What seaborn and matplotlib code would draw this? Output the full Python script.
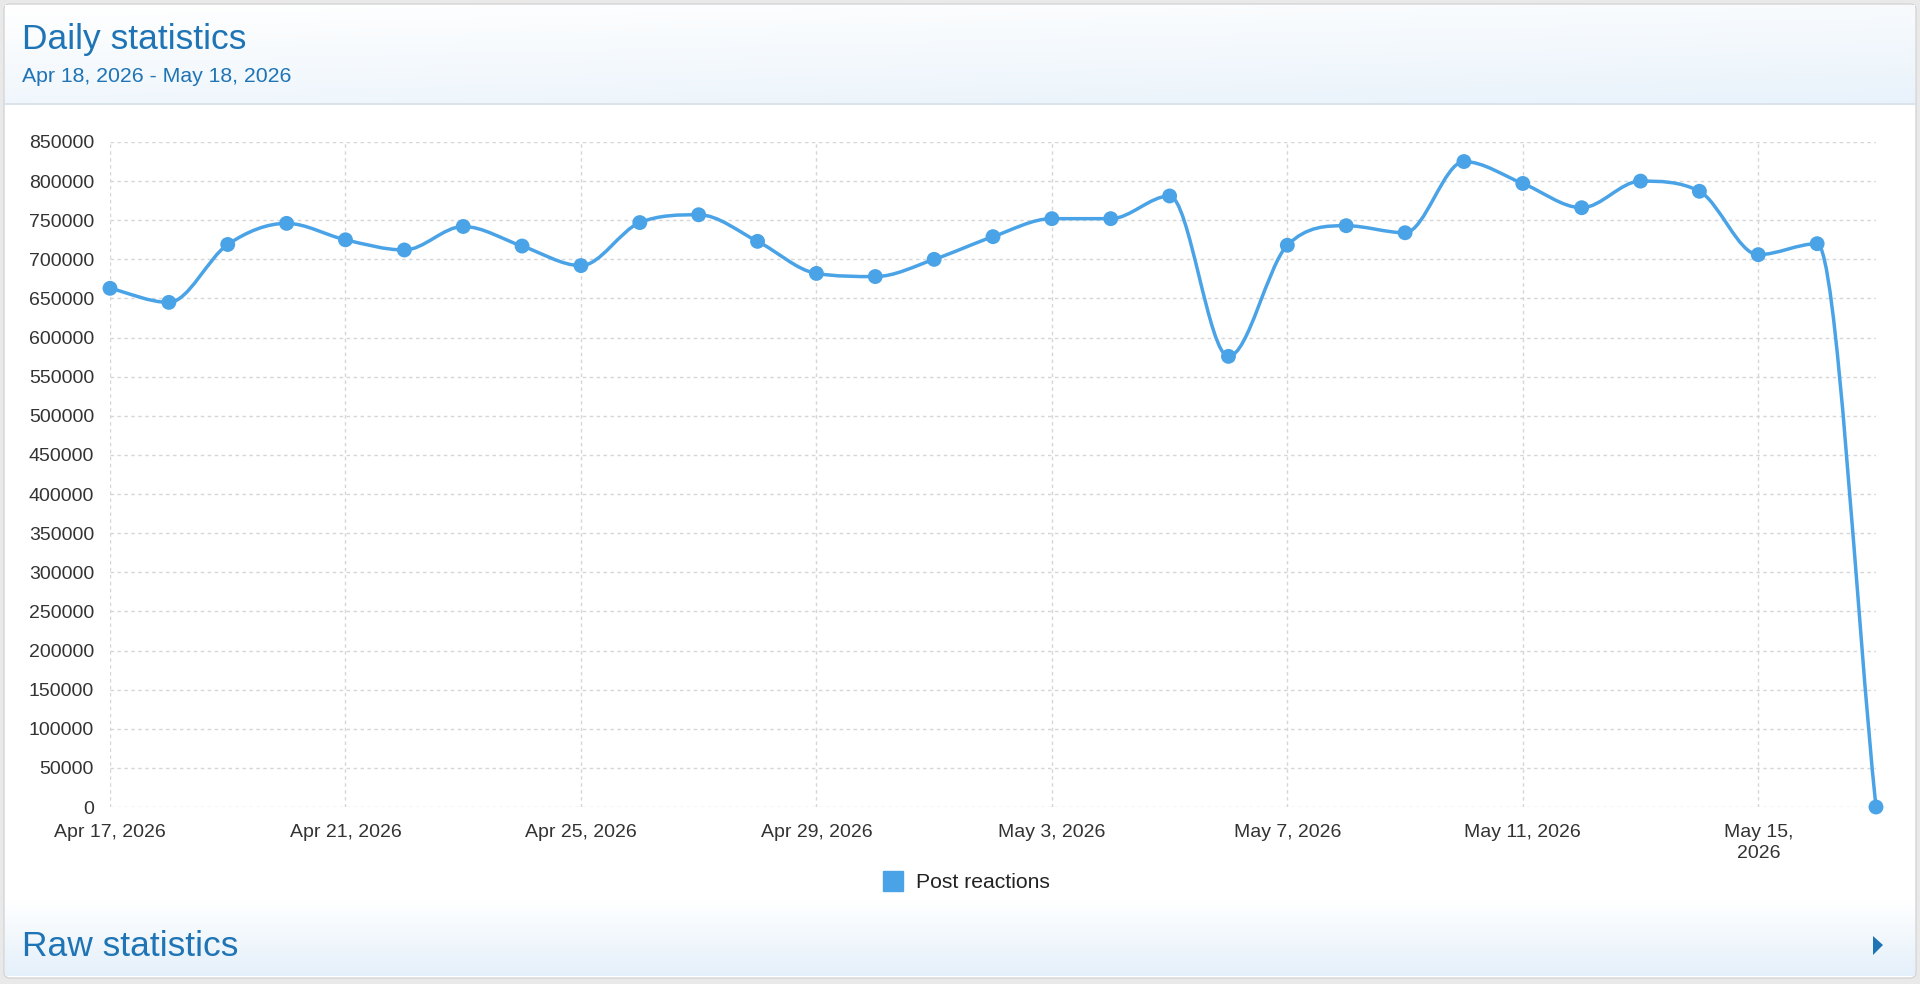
import matplotlib
matplotlib.use("Agg")
import matplotlib.pyplot as plt
import matplotlib.dates as mdates
from matplotlib.path import Path
from matplotlib.patches import PathPatch, FancyBboxPatch, Polygon
from matplotlib.lines import Line2D
import numpy as np
import pandas as pd
import seaborn as sns

# Data
days = pd.date_range("2026-04-17", "2026-05-17", freq="D")
reactions = [663000, 645000, 719000, 746000, 725000, 712000, 742000, 717000,
             692000, 747000, 757000, 723000, 682000, 678000, 700000, 729000,
             752000, 752000, 781000, 576000, 718000, 743000, 734000, 825000,
             797000, 766000, 800000, 787000, 706000, 720000, 0]
tick_days = pd.date_range("2026-04-17", "2026-05-15", freq="4D")
tick_labels = ["Apr 17, 2026", "Apr 21, 2026", "Apr 25, 2026", "Apr 29, 2026",
               "May 3, 2026", "May 7, 2026", "May 11, 2026", "May 15,\n2026"]
series_name = "Post reactions"
title = "Daily statistics"
subtitle = "Apr 18, 2026 - May 18, 2026"
footer = "Raw statistics"

df = pd.DataFrame({"day": days, "value": reactions})

W, H = 1920, 984
blue = "#4aa3e6"
head_blue = "#1f74b5"

sns.set_theme(style="white")
plt.rcParams["font.family"] = ["Liberation Sans", "DejaVu Sans"]

fig = plt.figure(figsize=(W / 100, H / 100), dpi=100)
fig.patch.set_facecolor("#e9e9e9")

# page decoration (pixel coordinates)
bg = fig.add_axes([0, 0, 1, 1], zorder=0)
bg.set_xlim(0, W)
bg.set_ylim(H, 0)
bg.axis("off")
bg.add_patch(FancyBboxPatch((4, 4), W - 8, H - 10, boxstyle="round,pad=0,rounding_size=6",
                            fc="white", ec="#d4d4d4", lw=1))
grad = np.linspace(0, 1, 100)[:, None]
hgrad = np.linspace(0, 1, 200)[None, :]
head = 0.55 * grad + 0.45 * hgrad * 0.6
cmap = matplotlib.colors.LinearSegmentedColormap.from_list("hd", ["#ffffff", "#e4f0fa"])
bg.imshow(head, cmap=cmap, vmin=0, vmax=1, extent=(5, W - 5, 103, 5), aspect="auto", zorder=1)
bg.plot([5, W - 5], [103.5, 103.5], color="#d3dde6", lw=1.2, zorder=2)
bg.imshow(np.linspace(0, 1, 100)[:, None], cmap=cmap, vmin=0, vmax=1,
          extent=(5, W - 5, 976, 900), aspect="auto", zorder=1)
bg.text(22, 40, title, fontsize=25.5, color=head_blue, va="center", ha="left")
bg.text(22, 77, subtitle, fontsize=15.3, color=head_blue, va="center", ha="left")
bg.text(22, 947, footer, fontsize=25.5, color=head_blue, va="center", ha="left")
bg.add_patch(Polygon([[1873, 936], [1883, 945], [1873, 955]], closed=True, fc=head_blue, ec="none"))

# chart
ax = fig.add_axes([110 / W, 1 - 807 / H, (1876 - 110) / W, (807 - 142) / H], zorder=2)
ax.patch.set_alpha(0)
x0, x1 = mdates.date2num(days[0]), mdates.date2num(days[-1])
ax.set_xlim(x0, x1)
ax.set_ylim(0, 850000)
ax.set_yticks(np.arange(0, 850001, 50000))
ax.set_yticklabels([str(v) for v in range(0, 850001, 50000)])
ax.set_xticks(mdates.date2num(tick_days))
ax.set_xticklabels(tick_labels, linespacing=1.3)
ax.tick_params(axis="both", labelsize=14, colors="#333333", length=0)
ax.tick_params(axis="y", pad=11.5)
ax.tick_params(axis="x", pad=12.5)
for s in ax.spines.values():
    s.set_visible(False)
ax.grid(True, color="#d6d6d6", lw=1, ls=(0, (2.5, 2.5)))
ax.set_axisbelow(True)

# smooth line: monotone cubic (Fritsch-Carlson) drawn as bezier segments
xs = mdates.date2num(df["day"])
ys = df["value"].to_numpy(dtype=float)
n = len(xs)
dk = np.diff(ys) / np.diff(xs)
mk = np.zeros(n)
mk[0] = dk[0]
mk[-1] = dk[-1]
for i in range(1, n - 1):
    a, b = dk[i - 1], dk[i]
    if a == 0 or b == 0 or np.sign(a) != np.sign(b):
        mk[i] = 0
    else:
        mk[i] = (a + b) / 2
for k in range(n - 1):
    if dk[k] == 0:
        mk[k] = mk[k + 1] = 0
        continue
    al, be = mk[k] / dk[k], mk[k + 1] / dk[k]
    sq = al ** 2 + be ** 2
    if sq > 9:
        tau = 3 / np.sqrt(sq)
        mk[k] = tau * al * dk[k]
        mk[k + 1] = tau * be * dk[k]
verts = [(xs[0], ys[0])]
codes = [Path.MOVETO]
for k in range(n - 1):
    h = (xs[k + 1] - xs[k]) / 3
    verts += [(xs[k] + h, ys[k] + mk[k] * h),
              (xs[k + 1] - h, ys[k + 1] - mk[k + 1] * h),
              (xs[k + 1], ys[k + 1])]
    codes += [Path.CURVE4] * 3
ax.add_patch(PathPatch(Path(verts, codes), fc="none", ec=blue, lw=2.5, zorder=3, clip_on=False))

sns.scatterplot(data=df, x=xs, y="value", ax=ax, color=blue, s=115, edgecolor="none",
                zorder=4, clip_on=False, legend=False)
ax.set_xlabel("")
ax.set_ylabel("")

handle = Line2D([], [], marker="s", ls="none", color=blue, markersize=15)
fig.legend([handle], [series_name], loc="center", bbox_to_anchor=(961 / W, 1 - 883 / H),
           frameon=False, fontsize=15.2, handletextpad=0.1, labelcolor="#222222")

fig.savefig("out.png", dpi=100, facecolor=fig.get_facecolor())
